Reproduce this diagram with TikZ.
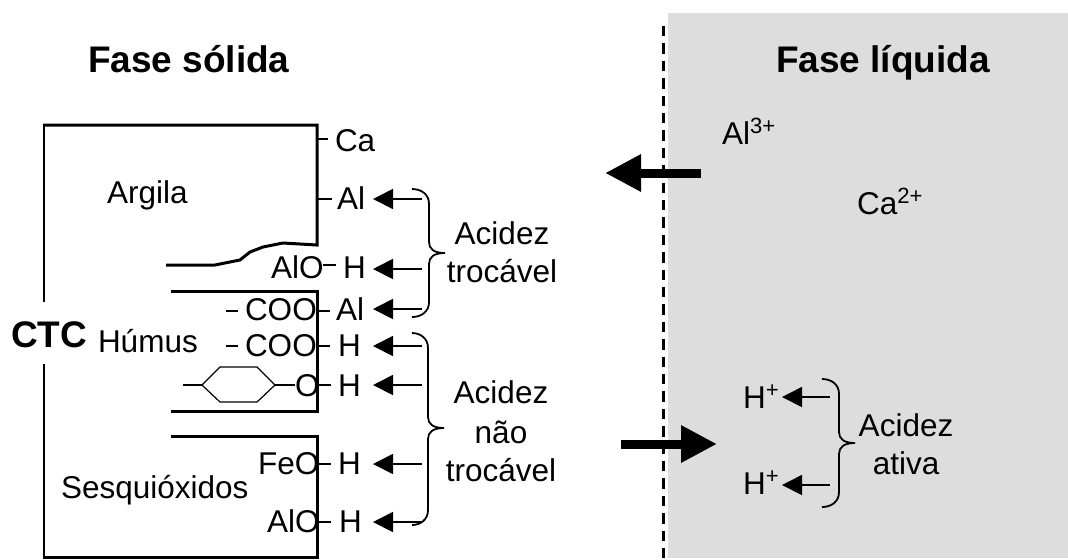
\documentclass[tikz,border=0pt]{standalone}
\usepackage{fontspec}
\setmainfont{Liberation Sans}
\usepackage{tikz}
\usetikzlibrary{arrows.meta}
\definecolor{light-gray}{RGB}{221,221,221}
\newcommand{\fonttext}{\fontsize{15.75}{19}\selectfont}
\newcommand{\fonttitle}{\fontsize{18.5}{22}\selectfont\bfseries}
% top, tip and bottom of a curly brace, with its spine at x=\s
\newcommand{\curly}[6]{
    \coordinate (#1top) at (#2,#4);
    \coordinate (#1tip) at (#3+16,#5);
    \coordinate (#1bot) at (#2,#6);
    \draw[brace] (#1top) .. controls (#3-8,#4) and (#3,#4+5) .. (#3,#4+15) -- (#3,#5-11) .. controls (#3,#5-4) and (#3+5,#5) .. (#1tip) .. controls (#3+5,#5) and (#3,#5+4) .. (#3,#5+11) -- (#3,#6-15) .. controls (#3,#6-5) and (#3-8,#6) .. (#1bot);
}

\begin{document}
\begin{tikzpicture}
[
  x=0.5pt, y=-0.5pt,
  block/.style={line width=1.5pt},
  tick/.style={line width=0.9pt},
  label/.style={inner sep=0pt,outer sep=0pt,anchor=base west,font=\fonttext},
  title/.style={inner sep=0pt,outer sep=0pt,anchor=base west,font=\fonttitle},
  ion/.style={label,align=left},
  note/.style={inner sep=0pt,outer sep=0pt,align=center,font=\fonttext},
  seta/.style={line width=0.9pt,-{Triangle[length=10pt,width=10pt]}},
  bigseta/.style={line width=4.5pt,-{Triangle[length=18pt,width=17.5pt]}},
  brace/.style={line width=0.9pt},
]
\useasboundingbox (0,0) rectangle (1068,559);
\fill[light-gray] (668,13) rectangle (1068,558);
\draw[line width=1.5pt,dash pattern=on 5.2pt off 3.5pt] (663,26) -- (663,559);

% blocks
\draw[block] (43,125) -- (317,125) -- (317,245) -- (283,243) -- (263,247) -- (250,252) -- (240,260) -- (215,265) -- (166,265);
\draw[block] (171,291) -- (317,291) -- (317,411) -- (171,411);
\draw[block] (171,436) -- (317,436) -- (317,557) -- (43,557);
\draw[line width=1pt] (44,125) -- (44,302);
\draw[line width=1pt] (44,364) -- (44,557);

% ticks
\foreach \xa/\xb/\y in {317/328/139,317/332/199,323/336/265,226/238/311,317/330/311,226/238/346,317/330/346,317/331/385,317/331/464,317/331/522}
    \draw[tick] (\xa,\y) -- (\xb,\y);

% ring
\draw[line width=0.6pt] (202,385) -- (220,367) -- (257,367) -- (275,385) -- (257,402) -- (220,402) -- cycle;
\draw[tick] (183,385) -- (202,385);
\draw[tick] (275,385) -- (295,385);

\node[title] (solida) at (88,72){Fase sólida};
\node[title] (liquida) at (776,72){Fase líquida};
\node[title] (ctc) at (11,347){CTC};
\node[label] (argila) at (107,203){Argila};
\node[label] (humus) at (98,352){Húmus};
\node[label] (sesq) at (61,498){Sesquióxidos};
\node[label] (ca) at (335,151){Ca};
\node[label] (alo) at (271,278){AlO};
\node[label] (cooa) at (245,320){COO};
\node[label] (coob) at (245,356){COO};
\node[label] (oh) at (295,396){O};
\node[label] (feo) at (258,474){FeO};
\node[label] (alob) at (267,532){AlO};
\node[label] (alsol) at (722,144){Al\textsuperscript{3+}};
\node[label] (casol) at (857,214){Ca\textsuperscript{2+}};

% ions and their arrows
\foreach \n/\t/\x/\yb/\y/\w in {ala/Al/337/209/199/18,hb/H/343/278/269/15,alc/Al/336/320/309/18.5,hd/H/338/356/346/17.5,he/H/338/396/385/17.5,hf/H/338/474/464/17.5,hg/H/339/532/522/17}{
    \node[ion,text width=\w pt] (ion\n) at (\x,\yb){\t};
    \coordinate (tail\n) at (422,\y);
    \draw[seta] (tail\n) -- (tail\n -| ion\n.east);
}
\foreach \n/\yb/\y in {a/408/397,b/494/485}{
    \node[ion,text width=19.5pt] (hsol\n) at (743,\yb){H\textsuperscript{+}};
    \coordinate (tailsol\n) at (830,\y);
    \draw[seta] (tailsol\n) -- (tailsol\n -| hsol\n.east);
}

% big arrows
\coordinate (outa) at (701,173);
\coordinate (outb) at (605,173);
\coordinate (ina) at (621,444);
\coordinate (inb) at (717,444);
\draw[bigseta] (outa) -- (outb);
\draw[bigseta] (ina) -- (inb);

% braces
\curly{troca}{412}{429}{189}{253}{317}
\curly{nao}{412}{428}{333}{428}{525}
\curly{ativa}{822}{839}{379}{443}{507}

\node[note] (trocavel) at (502,252){Acidez\\trocável};
\node[note] (naotroca) at (501,431){Acidez\\[1pt]não\\trocável};
\node[note] (ativatxt) at (906,444){Acidez\\ativa};
\end{tikzpicture}
\end{document}
